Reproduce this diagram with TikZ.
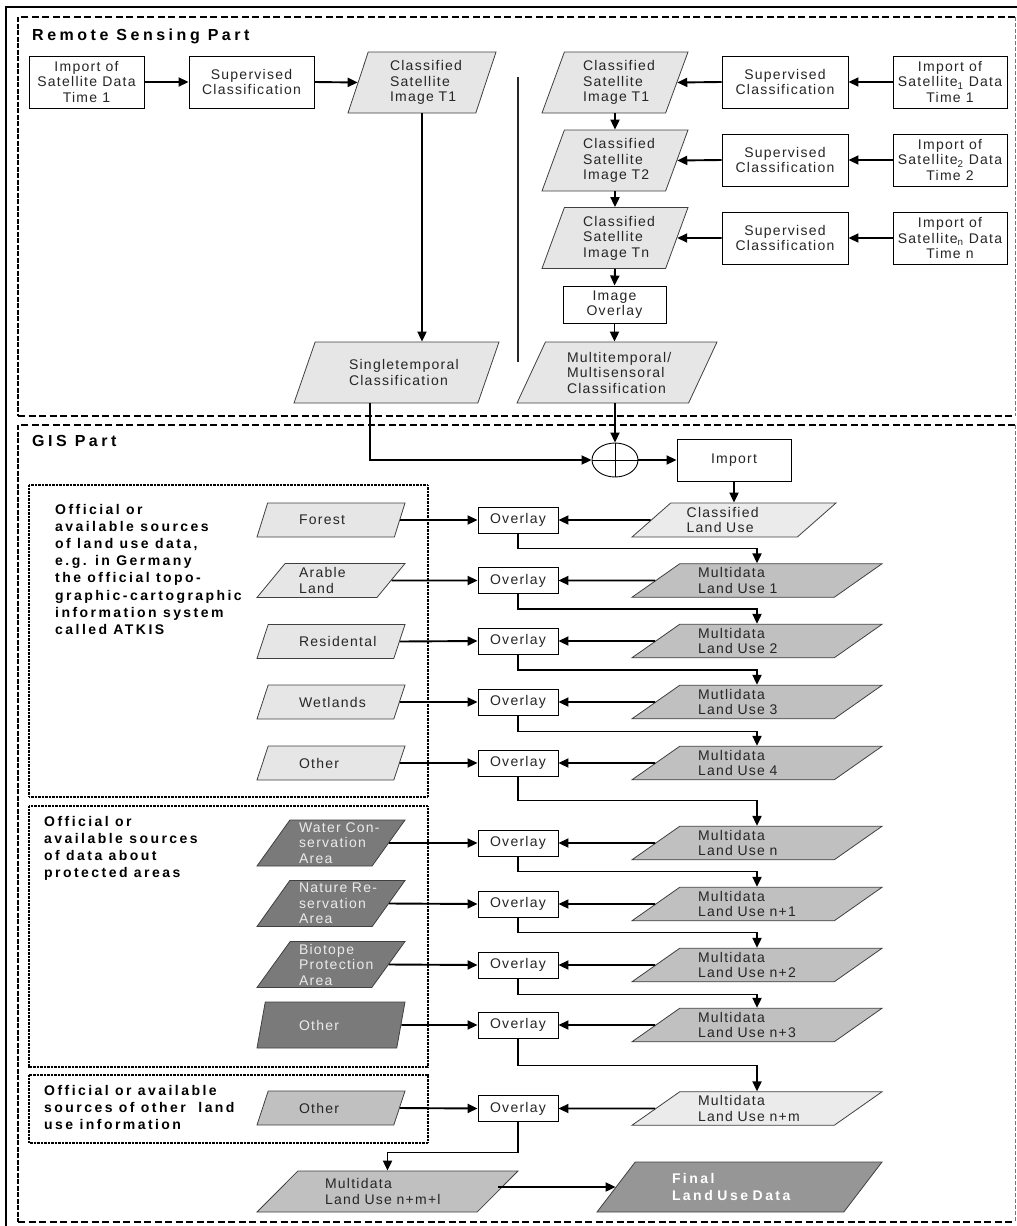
\documentclass[tikz,border=0pt]{standalone}
\usepackage{fontspec}
\setmainfont{Liberation Sans}
\newfontfamily\bodyf[LetterSpace=9]{Liberation Sans}
\newfontfamily\grpf[LetterSpace=17.5]{Liberation Sans}
\newfontfamily\ttlf[LetterSpace=22]{Liberation Sans}
\usetikzlibrary{shapes.geometric,arrows.meta,calc}
\definecolor{fillA}{HTML}{E6E6E6}
\definecolor{fillB}{HTML}{C0C0C0}
\definecolor{fillC}{HTML}{EBEBEB}
\definecolor{fillD}{HTML}{7A7A7A}
\definecolor{fillF}{HTML}{969696}
\tikzset{
  basefont/.style={font=\bodyf\fontsize{14}{15.5}\selectfont, text=black!85},
  box/.style={basefont, draw=black, line width=0.9, fill=white, align=center, inner sep=0},
  para/.style n args={6}{basefont, trapezium, trapezium stretches body, draw=black!75,
     line width=0.8, inner sep=0, align=left, trapezium left angle=#1,
     trapezium right angle=#2, minimum width=#3, minimum height=#4, text width=#5, fill=#6},
  arr/.style={line width=1.9, -{Triangle[length=10pt,width=9pt]}},
  frameline/.style={line width=1.7, dash pattern=on 7pt off 3.5pt},
  frameleft/.style={line width=1.7, dash pattern=on 5pt off 1.5pt},
  frameright/.style={line width=0.6, draw=black!55, dash pattern=on 4pt off 2pt},
  grpbox/.style={line width=1.3, dash pattern=on 0.8pt off 0.6pt},
  grptext/.style={anchor=north west, inner sep=0, align=left, font=\grpf\bfseries\fontsize{14}{17.2}\selectfont},
  ttl/.style={anchor=base west, inner sep=0, font=\ttlf\bfseries\fontsize{16}{19}\selectfont},
  ovbox/.style={box, minimum width=80, minimum height=26},
  lu/.style={para={28.38}{151.62}{250}{33.5}{118}{#1}},
  src/.style={para={42.58}{137.42}{148}{34}{64}{#1}},
  prot/.style={para={51.19}{128.81}{148}{46}{64}{fillD}, text=black!8},
}
\begin{document}
\begin{tikzpicture}[x=1pt,y=-1pt]
\useasboundingbox (0,0) rectangle (1017,1226);
% outer frame
\draw[line width=1.3] (6,1226) -- (6,7) -- (1017,7);
% Remote sensing frame
\draw[frameline] (1015,17) -- (18,17);
\draw[frameline] (18,416) -- (1015,416);
\draw[frameleft] (18,17) -- (18,416);
\draw[frameright] (1015,17) -- (1015,416);
% GIS frame
\draw[frameline] (1015,425) -- (18,425);
\draw[frameline] (18,1222) -- (1015,1222);
\draw[frameleft] (18,425) -- (18,1222);
\draw[frameright] (1015,425) -- (1015,1222);
% group boxes
\draw[grpbox] (29,485) rectangle (428,797);
\draw[grpbox] (29,806) rectangle (428,1067);
\draw[grpbox] (29,1075) rectangle (428,1143);
% divider
\draw[line width=1.5, black!85] (518,77) -- (518,362);

% titles
\node[ttl] (rstitle) at (32,40) {Remote Sensing Part};
\node[ttl] (gistitle) at (32,446.5) {GIS Part};
\node[grptext] (g1) at (55,503.7) {Official or\\available sources\\of land use data,\\e.g. in Germany\\the official topo-\\graphic-cartographic\\information system\\called ATKIS};
\node[grptext] (g2) at (44,815.7) {Official or\\available sources\\of data about\\protected areas};
\node[grptext] (g3) at (44,1084.7) {Official or available\\sources of other\ \ land\\use information};

% remote sensing left
\node[box, minimum width=115, minimum height=52] (imp0) at (86.5,82) {Import of\\Satellite Data\\Time 1};
\node[box, minimum width=125, minimum height=52] (sup0) at (251.5,82) {Supervised\\Classification};
\node[para={65.34}{114.66}{148}{61}{64}{fillA}] (t1L) at (422,82.5) {Classified\\Satellite\\\mbox{Image T1}};
\node[para={50.66}{129.34}{205}{61}{95}{fillA}] (single) at (396.5,372.5) {Singletemporal\\Classification};

% remote sensing right
\node[para={63.06}{116.94}{146}{61}{64}{fillA}] (c1) at (615,82.5) {Classified\\Satellite\\\mbox{Image T1}};
\node[para={63.06}{116.94}{146}{61}{64}{fillA}] (c2) at (615,160.5) {Classified\\Satellite\\\mbox{Image T2}};
\node[para={63.06}{116.94}{146}{61}{64}{fillA}] (c3) at (615,238) {Classified\\Satellite\\\mbox{Image Tn}};
\node[box, minimum width=126, minimum height=52] (s1) at (785,82) {Supervised\\Classification};
\node[box, minimum width=126, minimum height=52] (s2) at (785,160) {Supervised\\Classification};
\node[box, minimum width=126, minimum height=52] (s3) at (785,238) {Supervised\\Classification};
\node[box, minimum width=114, minimum height=52] (i1) at (950,82) {Import of\\Satellite\textsubscript{1} Data\\Time 1};
\node[box, minimum width=114, minimum height=52] (i2) at (950,160) {Import of\\Satellite\textsubscript{2} Data\\Time 2};
\node[box, minimum width=114, minimum height=52] (i3) at (950,238) {Import of\\Satellite\textsubscript{n} Data\\Time n};
\node[box, minimum width=103, minimum height=37] (iov) at (614.5,304.5) {Image\\Overlay};
\node[para={55.45}{124.55}{200}{61}{100}{fillA}] (multi) at (617,372.5) {Multitemporal/\\Multisensoral\\Classification};

% merge and import
\node[draw, ellipse, line width=0.9, minimum width=46, minimum height=34, inner sep=0, fill=white] (merge) at (615,460) {};
\draw[line width=0.9] (merge.north) -- (merge.south) (merge.west) -- (merge.east);
\node[box, minimum width=114, minimum height=42] (imp) at (734,460) {Import};
\node[para={33.69}{146.31}{204}{34}{94.7}{fillC}] (l0) at (734,520) {Classified\\\mbox{Land Use}};

% land use chain
\node[lu=fillB] (l1) at (757,580.5) {Multidata\\\mbox{Land Use 1}};
\node[lu=fillB] (l2) at (757,641) {Multidata\\\mbox{Land Use 2}};
\node[lu=fillB] (l3) at (757,702) {Mutlidata\\\mbox{Land Use 3}};
\node[lu=fillB] (l4) at (757,763) {Multidata\\\mbox{Land Use 4}};
\node[lu=fillB] (l5) at (757,843) {Multidata\\\mbox{Land Use n}};
\node[lu=fillB] (l6) at (757,904) {Multidata\\\mbox{Land Use n+1}};
\node[lu=fillB] (l7) at (757,965) {Multidata\\\mbox{Land Use n+2}};
\node[lu=fillB] (l8) at (757,1025) {Multidata\\\mbox{Land Use n+3}};
\node[lu=fillC] (l9) at (757,1108.5) {Multidata\\\mbox{Land Use n+m}};

% sources
\node[src=fillA] (r1) at (331,520) {Forest};
\node[src=fillA] (r2) at (331,580.5) {Arable\\Land};
\node[src=fillA] (r3) at (331,641.5) {Residental};
\node[src=fillA] (r4) at (331,702) {Wetlands};
\node[src=fillA] (r5) at (331,763) {Other};
\node[prot] (r6) at (331,843) {\mbox{Water Con-}\\servation\\Area};
\node[prot] (r7) at (331,903.5) {\mbox{Nature Re-}\\servation\\Area};
\node[prot] (r8) at (331,964.5) {Biotope\\Protection\\Area};
\node[prot] (r9) at (331,1025) {Other};
\node[src=fillB] (r10) at (331,1108) {Other};

% overlays
\foreach \n/\y in {1/520,2/580.5,3/641,4/702,5/763,6/843,7/904,8/965,9/1025,10/1108.5}
  \node[ovbox] (o\n) at (518,\y) {Overlay};

\node[para={32.24}{147.76}{261}{41}{125}{fillB}] (lf) at (387.5,1191.5) {Multidata\\\mbox{Land Use n+m+l}};
\node[para={35.54}{144.46}{285}{50}{135}{fillF}, font=\grpf\bfseries\fontsize{14}{17}\selectfont, text=white] (final) at (739.5,1187) {Final\\\mbox{Land Use Data}};

% connectors remote sensing
\draw[arr] (imp0.east) -- (sup0.west);
\draw[arr] (sup0.east) -- (t1L.west);
\draw[arr] (t1L.center |- t1L.south) -- (t1L.center |- single.north);
\draw[arr] (i1.west) -- (s1.east);
\draw[arr] (i2.west) -- (s2.east);
\draw[arr] (i3.west) -- (s3.east);
\draw[arr] (s1.west) -- (c1.east);
\draw[arr] (s2.west) -- (c2.east);
\draw[arr] (s3.west) -- (c3.east);
\draw[arr] (c1.south) -- (c2.north);
\draw[arr] (c2.south) -- (c3.north);
\draw[arr] (c3.south) -- (iov.north);
\draw[arr] (iov.south) -- (iov.south |- multi.north);
\draw[arr] (merge.north |- multi.south) -- (merge.north);
\draw[arr] ([xshift=-26.5pt]single.south) |- (merge.west);
\draw[arr] (merge.east) -- (imp.west);
\draw[arr] (imp.south) -- (l0.north);

% connectors GIS
\foreach \k in {1,...,10} \draw[arr] (r\k.east) -- (o\k.west);
\foreach \k/\p in {1/0,2/1,3/2,4/3,5/4,6/5,7/6,8/7,9/8,10/9} \draw[arr] (l\p.west) -- (o\k.east);
\foreach \k/\d in {1/15,2/15,3/15.5,4/16,5/24,6/15,7/15,8/16,9/27}
  \draw[arr] (o\k.south) -- ++(0,\d) -| (l\k.north);
\draw[arr] (o10.south) -- ++(0,30.5) -| (lf.north);
\draw[arr] (final.west -| lf.east) -- (final.west);
\end{tikzpicture}
\end{document}
